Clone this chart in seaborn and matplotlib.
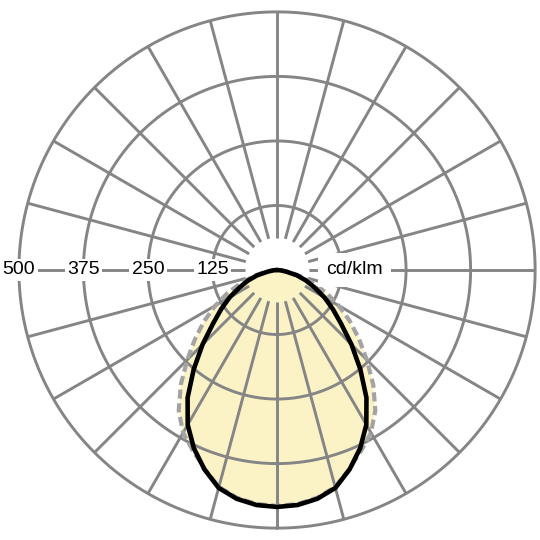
import numpy as np
import pandas as pd
import matplotlib
matplotlib.use("Agg")
import matplotlib.pyplot as plt
import seaborn as sns

# ---- data (cd/klm), half-plane angles from nadir, symmetric curves ----
angles_deg = [0, 5, 10, 15, 20, 25, 30, 35, 40, 45, 50, 55, 60, 65, 70, 75, 80, 85, 90]
c0_c180 = [459, 457, 450, 437, 411, 381, 346, 302, 251, 204, 162, 132, 106, 80, 60, 40, 18, 7, 0]
c90_c270 = [457, 455, 448, 435, 410, 386, 364, 332, 290, 246, 207, 172, 138, 106, 74, 48, 26, 10, 0]
ring_values = [125, 250, 375, 500]
ring_labels = ["125", "250", "375", "500"]
unit_label = "cd/klm"

sns.set_theme(style="white")
plt.rcParams['font.family'] = ['Liberation Sans', 'DejaVu Sans']

def full_curve(vals):
    a = np.array(angles_deg, dtype=float)
    v = np.array(vals, dtype=float)
    ang = np.concatenate([-a[::-1], a[1:]])
    val = np.concatenate([v[::-1], v[1:]])
    return pd.DataFrame({"theta": np.deg2rad(ang), "cd": val})

df_solid = full_curve(c0_c180)
df_dash = full_curve(c90_c270)

fig = plt.figure(figsize=(5.4, 5.4), dpi=100)
ax = fig.add_axes([0.035, 0.022, 0.956, 0.956], projection="polar")
ax.set_theta_zero_location("S")
ax.set_theta_direction(1)
ax.set_ylim(0, 500)
ax.grid(False)
ax.set_xticks([])
ax.set_yticks([])
ax.spines["polar"].set_visible(False)
ax.set_facecolor("white")

fill_col = "#FBF3C6"
grid_col = "#858585"

# fills (union of both planes)
ax.fill(df_dash["theta"], df_dash["cd"], color=fill_col, lw=0, zorder=1)
ax.fill(df_solid["theta"], df_solid["cd"], color=fill_col, lw=0, zorder=1)

# grid: circles
tt = np.linspace(0, 2 * np.pi, 721)
for rv in ring_values:
    ax.plot(tt, np.full_like(tt, rv), color=grid_col, lw=2.1, zorder=2, clip_on=False)
# grid: radial lines every 15 deg starting from inner radius
r_in = 62.5
for d in range(0, 360, 15):
    th = np.deg2rad(d)
    ax.plot([th, th], [r_in, 500], color=grid_col, lw=2.1, zorder=2,
            solid_capstyle="butt", clip_on=False)

# curves
sns.lineplot(data=df_dash, x="theta", y="cd", sort=False, ax=ax, color="#A3A3A3",
             lw=3.0, linestyle=(0, (2.2, 1.1)), zorder=4, legend=False)
sns.lineplot(data=df_solid, x="theta", y="cd", sort=False, ax=ax, color="black",
             lw=3.3, zorder=5, legend=False, solid_joinstyle="round")
ax.set_xlabel("")
ax.set_ylabel("")
ax.set_ylim(0, 500)

# labels on the horizontal axis
for rv, lab in zip(ring_values, ring_labels):
    ax.text(np.deg2rad(270), rv, lab, ha="center", va="center", fontsize=14,
            color="black", zorder=6,
            bbox=dict(boxstyle="square,pad=0.12", fc="white", ec="none"))
ax.text(np.deg2rad(90), 150, unit_label, ha="center", va="center", fontsize=14,
        color="black", zorder=6,
        bbox=dict(boxstyle="square,pad=0.42", fc="white", ec="none"))

fig.savefig("out.png", dpi=100, facecolor="white")
